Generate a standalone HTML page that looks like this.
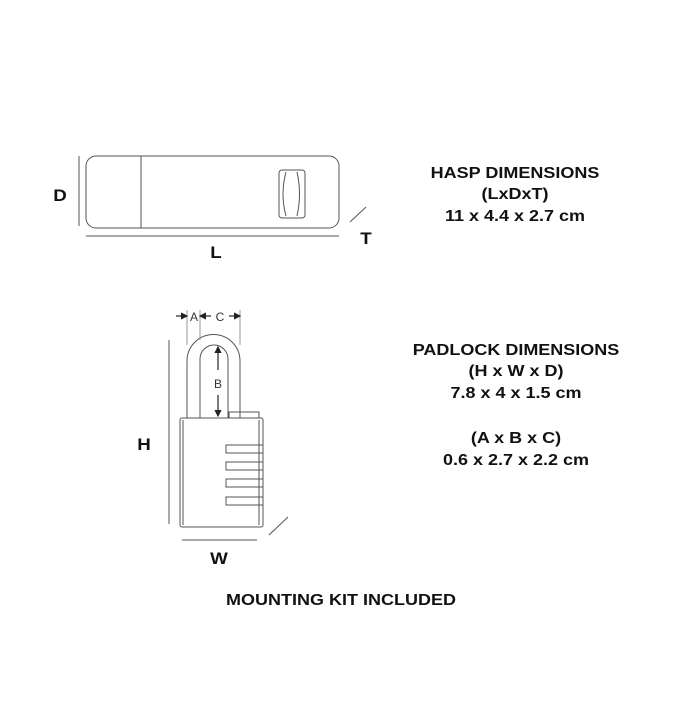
<!DOCTYPE html>
<html><head><style>
body{margin:0;background:#fff;}
svg text{font-family:"Liberation Sans",sans-serif;font-weight:bold;fill:#111;}
</style></head><body>
<svg width="700" height="700" viewBox="0 0 700 700" xmlns="http://www.w3.org/2000/svg">
<defs>
<marker id="ar" markerWidth="6" markerHeight="6" refX="5" refY="3" orient="auto"><path d="M0,0 L6,3 L0,6 Z" fill="#222"/></marker>
</defs>
<g fill="none" stroke="#555" stroke-width="1">
<rect x="86" y="156" width="253" height="72" rx="10"/>
<line x1="141" y1="156" x2="141" y2="228"/>
<rect x="279" y="170" width="26" height="48" rx="3"/>
<path d="M286,172 Q280,194 286,216 M297,172 Q302,194 297,216"/>
<line x1="79" y1="156" x2="79" y2="226"/>
<line x1="86" y1="236" x2="339" y2="236"/>
<line x1="350" y1="222" x2="366" y2="207"/>
<path d="M187,418 V361 A26.5,26.5 0 0 1 240,361 V418"/>
<path d="M200,418 V359 A14,14 0 0 1 228,359 V418"/>
<rect x="180" y="418" width="83" height="109" rx="2"/>
<line x1="183" y1="420" x2="183" y2="525"/>
<line x1="259" y1="420" x2="259" y2="525"/>
<rect x="229" y="412" width="30" height="6"/>
<rect x="226" y="445" width="37" height="8"/>
<rect x="226" y="462" width="37" height="8"/>
<rect x="226" y="479" width="37" height="8"/>
<rect x="226" y="497" width="37" height="8"/>
<line x1="169" y1="340" x2="169" y2="524"/>
<line x1="182" y1="540" x2="257" y2="540"/>
<line x1="269" y1="535" x2="288" y2="517"/>
<line x1="187" y1="310" x2="187" y2="345" stroke="#999"/>
<line x1="200" y1="310" x2="200" y2="340" stroke="#999"/>
<line x1="240" y1="310" x2="240" y2="345" stroke="#999"/>
</g>
<g stroke="#222" stroke-width="1.2">
<line x1="176" y1="316" x2="187" y2="316" marker-end="url(#ar)"/>
<line x1="211" y1="316" x2="200" y2="316" marker-end="url(#ar)"/>
<line x1="229" y1="316" x2="240" y2="316" marker-end="url(#ar)"/>
<line x1="218" y1="370" x2="218" y2="347" marker-end="url(#ar)"/>
<line x1="218" y1="395" x2="218" y2="416" marker-end="url(#ar)"/>
</g>
<g font-size="12">
<text x="194" y="321" text-anchor="middle" style="font-weight:normal;fill:#333">A</text>
<text x="220" y="321" text-anchor="middle" style="font-weight:normal;fill:#333">C</text>
<text x="218" y="388" text-anchor="middle" style="font-weight:normal;fill:#333">B</text>
</g>
<g font-size="15" text-anchor="middle">
<text transform="translate(60,201) scale(1.25,1.1)">D</text>
<text transform="translate(216,258) scale(1.25,1.1)">L</text>
<text transform="translate(366,244) scale(1.25,1.1)">T</text>
<text transform="translate(144,450) scale(1.25,1.1)">H</text>
<text transform="translate(219,564) scale(1.25,1.1)">W</text>
<text transform="translate(515,178) scale(1.2,1.05)">HASP DIMENSIONS</text>
<text transform="translate(515,199) scale(1.2,1.05)">(LxDxT)</text>
<text transform="translate(515,221) scale(1.2,1.05)">11 x 4.4 x 2.7 cm</text>
<text transform="translate(516,355) scale(1.2,1.05)">PADLOCK DIMENSIONS</text>
<text transform="translate(516,376) scale(1.2,1.05)">(H x W x D)</text>
<text transform="translate(516,398) scale(1.2,1.05)">7.8 x 4 x 1.5 cm</text>
<text transform="translate(516,443) scale(1.2,1.05)">(A x B x C)</text>
<text transform="translate(516,465) scale(1.2,1.05)">0.6 x 2.7 x 2.2 cm</text>
<text transform="translate(341,605) scale(1.2,1.05)">MOUNTING KIT INCLUDED</text>
</g>
</svg>
</body></html>
